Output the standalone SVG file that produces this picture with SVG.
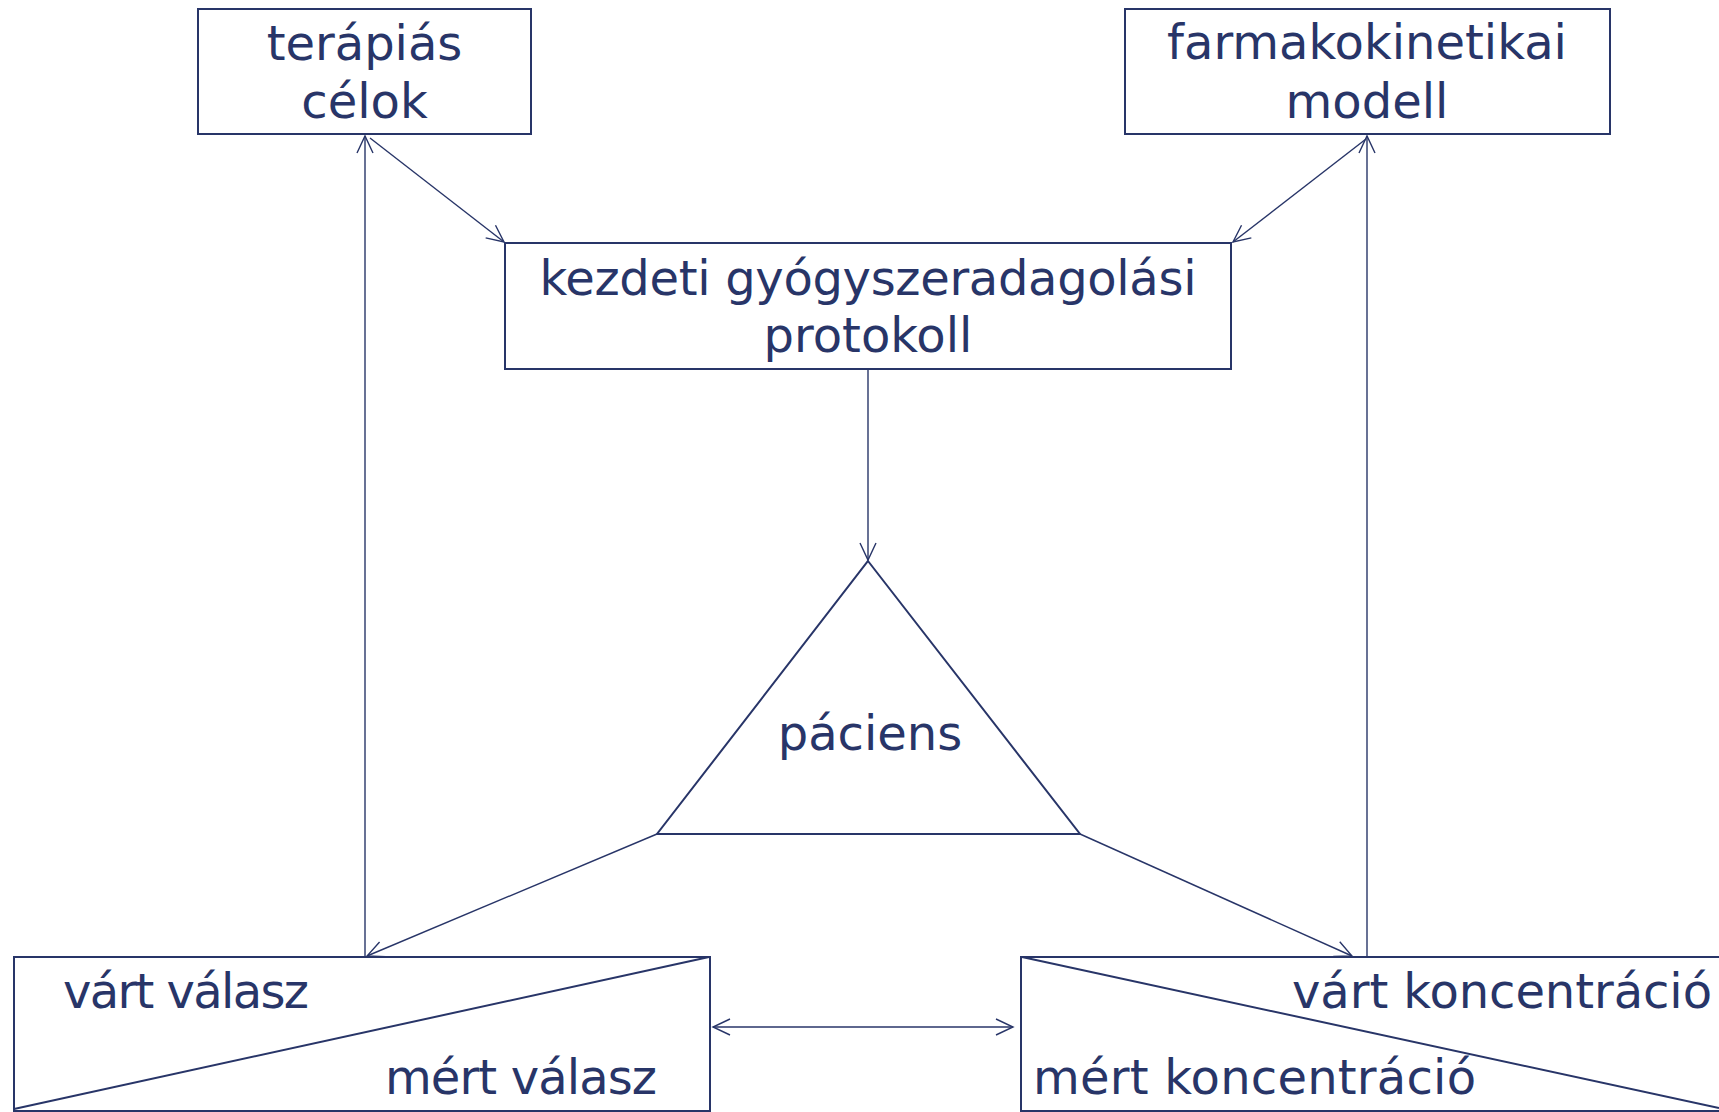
<svg xmlns="http://www.w3.org/2000/svg" width="1719" height="1112" viewBox="0 0 1719 1112">
<style>
.box{fill:#fff;stroke:#283568;stroke-width:2}
.lbl{font-family:"DejaVu Sans",sans-serif;font-size:48px;fill:#283568}
.mid{text-anchor:middle}
.con{fill:none;stroke:#283568;stroke-width:1.4}
.div{fill:none;stroke:#283568;stroke-width:2}
</style>
<defs>
<marker id="ah" markerUnits="userSpaceOnUse" markerWidth="22" markerHeight="22" viewBox="0 0 22 22" refX="19" refY="11" orient="auto-start-reverse">
<path d="M2,3 L19,11 L2,19" fill="none" stroke="#283568" stroke-width="1.4"/>
</marker>
</defs>
<rect width="1719" height="1112" fill="#fff"/>
<g id="connectors">
<line class="con" x1="365" y1="957" x2="365" y2="136" marker-end="url(#ah)"/>
<line class="con" x1="370" y1="138" x2="504" y2="242" marker-end="url(#ah)"/>
<line class="con" x1="1367" y1="957" x2="1367" y2="136" marker-end="url(#ah)"/>
<line class="con" x1="1366" y1="139" x2="1233" y2="242" marker-end="url(#ah)"/>
<line class="con" x1="868" y1="369" x2="868" y2="560" marker-end="url(#ah)"/>
<line class="con" x1="657" y1="834" x2="367" y2="956" marker-end="url(#ah)"/>
<line class="con" x1="1080" y1="834" x2="1352" y2="956" marker-end="url(#ah)"/>
<line class="con" x1="713" y1="1027" x2="1013" y2="1027" marker-start="url(#ah)" marker-end="url(#ah)"/>
</g>
<g id="terapias">
<rect class="box" x="198" y="9" width="333" height="125"/>
<text class="lbl mid" x="364.5" y="60">terápiás</text>
<text class="lbl mid" x="364.5" y="118">célok</text>
</g>
<g id="farmako">
<rect class="box" x="1125" y="9" width="485" height="125"/>
<text class="lbl mid" x="1367" y="59">farmakokinetikai</text>
<text class="lbl mid" x="1367" y="118">modell</text>
</g>
<g id="kezdeti">
<rect class="box" x="505" y="243" width="726" height="126"/>
<text class="lbl mid" x="868" y="295" textLength="657">kezdeti gyógyszeradagolási</text>
<text class="lbl mid" x="868" y="352">protokoll</text>
</g>
<g id="paciens">
<polygon class="box" points="868,561 1080,834 657,834"/>
<text class="lbl mid" x="870" y="750">páciens</text>
</g>
<g id="valasz">
<rect class="box" x="14" y="957" width="696" height="154"/>
<line class="div" x1="14" y1="1109" x2="709" y2="957"/>
<text class="lbl" x="63" y="1008" textLength="246">várt válasz</text>
<text class="lbl" x="385" y="1094" textLength="272">mért válasz</text>
</g>
<g id="koncentracio">
<rect class="box" x="1021" y="957" width="702" height="154"/>
<line class="div" x1="1022" y1="957" x2="1719" y2="1108"/>
<text class="lbl" x="1292" y="1008" textLength="420">várt koncentráció</text>
<text class="lbl" x="1033" y="1094" textLength="443">mért koncentráció</text>
</g>
</svg>
